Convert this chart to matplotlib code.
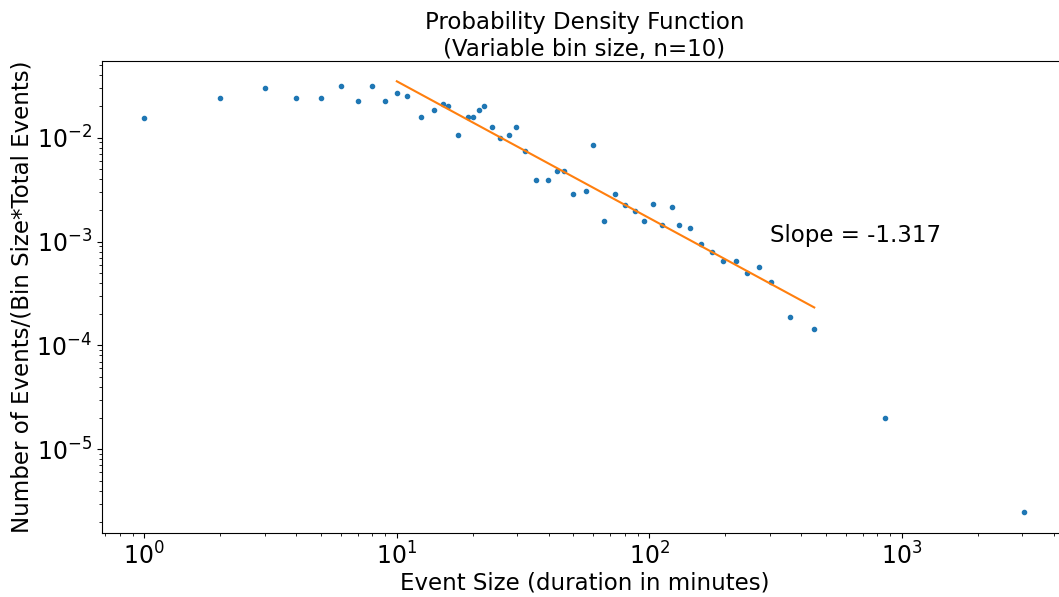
#!/usr/bin/env python3
# -*- coding: utf-8 -*-

import matplotlib
matplotlib.use('Agg')
import matplotlib.pyplot as plt
import numpy

# event sizes (minutes) and the normalised counts per bin
event_size = [1, 2, 3, 4, 5, 6, 7, 8, 9, 10, 11, 12.5, 14, 15.2, 16, 17.5,
              19.1, 20, 21.1, 22.2, 23.8, 25.6, 27.7, 29.7, 32.3, 35.7,
              39.7, 43.2, 46.1, 50, 56.3, 59.6, 65.9, 73.1, 79.8, 87.7,
              95.2, 103.3, 112, 123.4, 130.6, 144.5, 160, 176.4, 195.6,
              220.8, 244.2, 271.6, 303, 361, 448.5, 860, 3052]
density = [0.0156, 0.0239, 0.0301, 0.0239, 0.0239, 0.0313, 0.0226, 0.0313,
           0.0226, 0.0271, 0.0254, 0.0157, 0.0184, 0.0211, 0.0200, 0.0107,
           0.0157, 0.0157, 0.0184, 0.0200, 0.0128, 0.0100, 0.0107, 0.0128,
           0.0075, 0.00394, 0.00394, 0.00475, 0.00475, 0.00285, 0.00309,
           0.0085, 0.00159, 0.00285, 0.00223, 0.00197, 0.00159, 0.00232,
           0.00144, 0.00215, 0.00144, 0.00134, 0.000955, 0.000794, 0.00065,
           0.00065, 0.000496, 0.00057, 0.000406, 0.000188, 0.000144,
           2.02e-5, 2.5e-6]

# power law fit over the middle range
fit_range = [10, 450]
fit_slope = -1.317
fit_amp = 0.724


def pdf_plot(filename):
    fig = plt.figure(figsize=(10.59, 5.97), dpi=100)
    # the right edge of the frame runs off the picture, as in the original
    ax = fig.add_axes([0.096, 0.1072, 0.9115, 0.7906])

    ax.plot(event_size, density, '.', color='#1f77b4', markersize=6)

    fx = numpy.array(fit_range, dtype=float)
    ax.plot(fx, fit_amp * fx ** fit_slope, '-', color='#ff7f0e', linewidth=1.5)

    ax.set_xscale('log')
    ax.set_yscale('log')
    ax.set_xlim(10 ** -0.169, 10 ** 3.654)
    ax.set_ylim(10 ** -5.806, 10 ** -1.262)

    ax.text(300, 1e-3, 'Slope = ' + f'{fit_slope:.3f}', fontsize=16.5)

    ax.set_title('Probability Density Function\n(Variable bin size, n=10)',
                 fontsize=16.5, pad=3)
    ax.set_xlabel('Event Size (duration in minutes)', fontsize=16.5,
                  labelpad=1)
    ax.set_ylabel('Number of Events/(Bin Size*Total Events)', fontsize=16.5,
                  labelpad=2)
    ax.tick_params(axis='both', which='major', labelsize=17)

    fig.savefig(filename, dpi=100)
    plt.close(fig)


def main():
    pdf_plot('out.png')


if __name__ == '__main__':
    main()
